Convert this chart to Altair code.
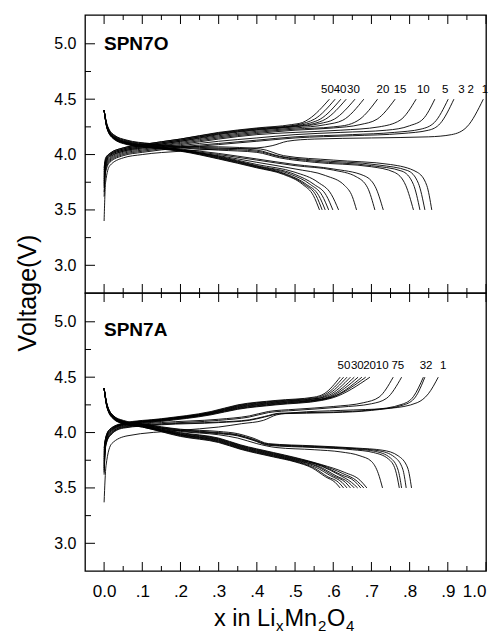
import altair as alt
import pandas as pd

# ---------------- data ----------------
X_MAJOR = [0.0, 0.1, 0.2, 0.3, 0.4, 0.5, 0.6, 0.7, 0.8, 0.9, 1.0]
X_MINOR = [0.05, 0.15, 0.25, 0.35, 0.45, 0.55, 0.65, 0.75, 0.85, 0.95]
Y_MAJOR = [3.0, 3.5, 4.0, 4.5, 5.0]
Y_MINOR = [3.25, 3.75, 4.25, 4.75]

# SPN7O (top) charge curves, cycle -> [(x, V)]
spn7o_charge = {
    1: [(0, 3.40), (0.004, 3.75), (0.015, 3.90), (0.05, 3.97), (0.1, 4.00), (0.2, 4.03), (0.3, 4.05), (0.4, 4.06), (0.44, 4.08), (0.48, 4.12), (0.55, 4.14), (0.7, 4.15), (0.85, 4.16), (0.91, 4.18), (0.95, 4.25), (0.993, 4.50)],
    2: [(0, 3.62), (0.004, 3.84), (0.015, 3.93), (0.05, 3.99), (0.1, 4.02), (0.2, 4.06), (0.3, 4.09), (0.4, 4.12), (0.5, 4.15), (0.65, 4.17), (0.78, 4.19), (0.85, 4.22), (0.88, 4.28), (0.916, 4.50)],
    3: [(0, 3.66), (0.004, 3.86), (0.015, 3.94), (0.05, 4.00), (0.1, 4.03), (0.2, 4.07), (0.3, 4.10), (0.4, 4.13), (0.5, 4.16), (0.65, 4.18), (0.76, 4.20), (0.83, 4.23), (0.865, 4.29), (0.901, 4.50)],
    5: [(0, 3.70), (0.004, 3.88), (0.015, 3.95), (0.05, 4.01), (0.1, 4.04), (0.2, 4.08), (0.3, 4.12), (0.4, 4.15), (0.5, 4.18), (0.62, 4.20), (0.74, 4.22), (0.8, 4.26), (0.835, 4.32), (0.866, 4.50)],
    10: [(0, 3.72), (0.004, 3.89), (0.015, 3.96), (0.05, 4.02), (0.1, 4.05), (0.2, 4.09), (0.3, 4.14), (0.4, 4.18), (0.5, 4.20), (0.62, 4.22), (0.72, 4.25), (0.775, 4.31), (0.817, 4.50)],
    15: [(0, 3.74), (0.004, 3.90), (0.015, 3.97), (0.05, 4.03), (0.1, 4.06), (0.2, 4.10), (0.3, 4.15), (0.4, 4.19), (0.5, 4.22), (0.6, 4.24), (0.67, 4.27), (0.715, 4.32), (0.762, 4.50)],
    20: [(0, 3.76), (0.004, 3.91), (0.015, 3.98), (0.05, 4.03), (0.1, 4.06), (0.2, 4.11), (0.3, 4.16), (0.4, 4.20), (0.5, 4.23), (0.6, 4.25), (0.64, 4.27), (0.67, 4.32), (0.716, 4.50)],
    25: [(0, 3.78), (0.004, 3.92), (0.015, 3.99), (0.05, 4.04), (0.1, 4.07), (0.2, 4.12), (0.3, 4.17), (0.4, 4.21), (0.5, 4.24), (0.58, 4.27), (0.625, 4.31), (0.68, 4.50)],
    30: [(0, 3.80), (0.004, 3.93), (0.015, 3.99), (0.05, 4.04), (0.1, 4.07), (0.2, 4.12), (0.3, 4.18), (0.4, 4.22), (0.5, 4.25), (0.565, 4.28), (0.603, 4.32), (0.657, 4.50)],
    35: [(0, 3.82), (0.004, 3.94), (0.015, 4.00), (0.05, 4.05), (0.1, 4.08), (0.2, 4.13), (0.3, 4.185), (0.4, 4.225), (0.5, 4.255), (0.55, 4.28), (0.58, 4.32), (0.634, 4.50)],
    40: [(0, 3.84), (0.004, 3.95), (0.015, 4.00), (0.05, 4.05), (0.1, 4.08), (0.2, 4.13), (0.3, 4.19), (0.4, 4.23), (0.5, 4.26), (0.54, 4.285), (0.566, 4.32), (0.620, 4.50)],
    45: [(0, 3.86), (0.004, 3.96), (0.015, 4.01), (0.05, 4.06), (0.1, 4.09), (0.2, 4.14), (0.3, 4.195), (0.4, 4.235), (0.5, 4.265), (0.53, 4.29), (0.551, 4.32), (0.605, 4.50)],
    50: [(0, 3.88), (0.004, 3.97), (0.015, 4.01), (0.05, 4.06), (0.1, 4.09), (0.2, 4.14), (0.3, 4.20), (0.4, 4.24), (0.49, 4.27), (0.52, 4.29), (0.536, 4.32), (0.590, 4.50)],
}

# discharge curves: each starts at 4.4 V at x = 0
spn7o_discharge = {
    1: [(0, 4.40), (0.008, 4.27), (0.025, 4.18), (0.06, 4.13), (0.12, 4.10), (0.2, 4.075), (0.3, 4.07), (0.41, 4.05), (0.47, 3.99), (0.6, 3.95), (0.75, 3.91), (0.82, 3.84), (0.845, 3.72), (0.858, 3.50)],
    2: [(0, 4.40), (0.008, 4.26), (0.025, 4.175), (0.06, 4.125), (0.12, 4.095), (0.2, 4.07), (0.3, 4.06), (0.4, 4.04), (0.46, 3.985), (0.55, 3.95), (0.72, 3.905), (0.795, 3.855), (0.823, 3.74), (0.840, 3.50)],
    3: [(0, 4.40), (0.008, 4.26), (0.025, 4.17), (0.06, 4.12), (0.12, 4.09), (0.2, 4.065), (0.3, 4.05), (0.4, 4.03), (0.46, 3.98), (0.55, 3.94), (0.7, 3.90), (0.78, 3.85), (0.81, 3.73), (0.827, 3.50)],
    5: [(0, 4.40), (0.008, 4.255), (0.025, 4.165), (0.06, 4.115), (0.12, 4.085), (0.2, 4.06), (0.3, 4.04), (0.4, 4.02), (0.46, 3.97), (0.55, 3.93), (0.7, 3.89), (0.76, 3.84), (0.79, 3.72), (0.810, 3.50)],
    10: [(0, 4.40), (0.008, 4.25), (0.025, 4.16), (0.06, 4.11), (0.12, 4.08), (0.2, 4.05), (0.3, 4.01), (0.4, 3.96), (0.5, 3.91), (0.6, 3.87), (0.68, 3.81), (0.71, 3.71), (0.731, 3.50)],
    15: [(0, 4.40), (0.008, 4.25), (0.025, 4.16), (0.06, 4.11), (0.12, 4.08), (0.2, 4.045), (0.3, 4.00), (0.4, 3.95), (0.5, 3.90), (0.6, 3.86), (0.66, 3.80), (0.69, 3.70), (0.709, 3.50)],
    20: [(0, 4.40), (0.008, 4.245), (0.025, 4.155), (0.06, 4.105), (0.12, 4.075), (0.2, 4.04), (0.3, 3.99), (0.4, 3.93), (0.5, 3.87), (0.58, 3.81), (0.63, 3.72), (0.65, 3.62), (0.661, 3.50)],
    25: [(0, 4.40), (0.008, 4.245), (0.025, 4.155), (0.06, 4.105), (0.12, 4.075), (0.2, 4.04), (0.3, 3.985), (0.4, 3.91), (0.5, 3.84), (0.56, 3.75), (0.595, 3.64), (0.614, 3.50)],
    30: [(0, 4.40), (0.008, 4.24), (0.025, 4.15), (0.06, 4.10), (0.12, 4.07), (0.2, 4.04), (0.3, 3.98), (0.4, 3.90), (0.5, 3.82), (0.55, 3.73), (0.582, 3.63), (0.599, 3.50)],
    35: [(0, 4.40), (0.008, 4.24), (0.025, 4.15), (0.06, 4.10), (0.12, 4.07), (0.2, 4.04), (0.3, 3.975), (0.4, 3.895), (0.49, 3.82), (0.54, 3.73), (0.571, 3.63), (0.588, 3.50)],
    40: [(0, 4.40), (0.008, 4.235), (0.025, 4.145), (0.06, 4.095), (0.12, 4.065), (0.2, 4.035), (0.3, 3.97), (0.4, 3.89), (0.48, 3.82), (0.53, 3.73), (0.562, 3.63), (0.579, 3.50)],
    45: [(0, 4.40), (0.008, 4.235), (0.025, 4.145), (0.06, 4.095), (0.12, 4.065), (0.2, 4.035), (0.3, 3.965), (0.4, 3.885), (0.475, 3.82), (0.525, 3.73), (0.555, 3.63), (0.571, 3.50)],
    50: [(0, 4.40), (0.008, 4.23), (0.025, 4.14), (0.06, 4.09), (0.12, 4.06), (0.2, 4.03), (0.3, 3.96), (0.4, 3.88), (0.47, 3.82), (0.52, 3.73), (0.548, 3.63), (0.564, 3.50)],
}

# SPN7A (bottom)
spn7a_charge = {
    1: [(0, 3.37), (0.005, 3.70), (0.02, 3.90), (0.06, 3.97), (0.2, 4.02), (0.3, 4.05), (0.36, 4.08), (0.417, 4.11), (0.452, 4.16), (0.5, 4.18), (0.62, 4.20), (0.75, 4.22), (0.82, 4.27), (0.849, 4.35), (0.875, 4.50)],
    2: [(0, 3.62), (0.004, 3.87), (0.015, 3.97), (0.05, 4.04), (0.15, 4.07), (0.3, 4.09), (0.38, 4.11), (0.42, 4.14), (0.46, 4.17), (0.6, 4.18), (0.7, 4.20), (0.785, 4.25), (0.815, 4.32), (0.840, 4.50)],
    3: [(0, 3.64), (0.004, 3.88), (0.015, 3.97), (0.05, 4.045), (0.15, 4.075), (0.3, 4.095), (0.38, 4.115), (0.42, 4.145), (0.46, 4.175), (0.6, 4.185), (0.7, 4.205), (0.78, 4.255), (0.81, 4.325), (0.836, 4.50)],
    5: [(0, 3.66), (0.004, 3.89), (0.015, 3.98), (0.05, 4.05), (0.15, 4.08), (0.3, 4.11), (0.38, 4.14), (0.43, 4.18), (0.5, 4.20), (0.62, 4.23), (0.7, 4.26), (0.74, 4.31), (0.779, 4.50)],
    7: [(0, 3.68), (0.004, 3.90), (0.015, 3.98), (0.05, 4.055), (0.15, 4.09), (0.3, 4.12), (0.38, 4.15), (0.43, 4.19), (0.5, 4.21), (0.6, 4.235), (0.68, 4.27), (0.72, 4.32), (0.757, 4.50)],
    10: [(0, 3.70), (0.004, 3.91), (0.015, 3.99), (0.05, 4.06), (0.15, 4.10), (0.28, 4.16), (0.35, 4.21), (0.45, 4.25), (0.57, 4.29), (0.60, 4.315), (0.696, 4.50)],
    15: [(0, 3.72), (0.004, 3.92), (0.015, 4.00), (0.05, 4.065), (0.15, 4.105), (0.28, 4.165), (0.35, 4.215), (0.45, 4.255), (0.57, 4.295), (0.598, 4.32), (0.685, 4.50)],
    20: [(0, 3.74), (0.004, 3.92), (0.015, 4.00), (0.05, 4.07), (0.15, 4.11), (0.28, 4.17), (0.35, 4.22), (0.45, 4.26), (0.57, 4.30), (0.596, 4.32), (0.675, 4.50)],
    25: [(0, 3.76), (0.004, 3.93), (0.015, 4.01), (0.05, 4.07), (0.15, 4.11), (0.28, 4.17), (0.35, 4.225), (0.45, 4.265), (0.57, 4.30), (0.594, 4.325), (0.665, 4.50)],
    30: [(0, 3.78), (0.004, 3.93), (0.015, 4.01), (0.05, 4.075), (0.15, 4.115), (0.28, 4.175), (0.35, 4.23), (0.45, 4.27), (0.57, 4.305), (0.592, 4.33), (0.655, 4.50)],
    35: [(0, 3.80), (0.004, 3.94), (0.015, 4.02), (0.05, 4.075), (0.15, 4.115), (0.28, 4.18), (0.35, 4.235), (0.45, 4.275), (0.565, 4.31), (0.588, 4.335), (0.645, 4.50)],
    40: [(0, 3.82), (0.004, 3.94), (0.015, 4.02), (0.05, 4.08), (0.15, 4.12), (0.28, 4.18), (0.35, 4.24), (0.45, 4.28), (0.56, 4.31), (0.584, 4.34), (0.636, 4.50)],
    45: [(0, 3.84), (0.004, 3.95), (0.015, 4.03), (0.05, 4.08), (0.15, 4.12), (0.28, 4.185), (0.35, 4.245), (0.45, 4.285), (0.555, 4.315), (0.58, 4.345), (0.627, 4.50)],
    50: [(0, 3.86), (0.004, 3.95), (0.015, 4.03), (0.05, 4.085), (0.15, 4.125), (0.28, 4.19), (0.35, 4.25), (0.45, 4.29), (0.55, 4.32), (0.576, 4.35), (0.618, 4.50)],
}

spn7a_discharge = {
    1: [(0, 4.40), (0.008, 4.25), (0.025, 4.15), (0.05, 4.11), (0.1, 4.08), (0.2, 4.03), (0.3, 4.01), (0.35, 3.99), (0.39, 3.95), (0.43, 3.90), (0.55, 3.88), (0.66, 3.86), (0.73, 3.84), (0.77, 3.79), (0.795, 3.68), (0.805, 3.50)],
    2: [(0, 4.40), (0.008, 4.25), (0.025, 4.15), (0.05, 4.105), (0.1, 4.075), (0.2, 4.025), (0.3, 4.00), (0.35, 3.98), (0.39, 3.94), (0.43, 3.895), (0.55, 3.875), (0.66, 3.855), (0.72, 3.835), (0.76, 3.78), (0.782, 3.67), (0.791, 3.50)],
    3: [(0, 4.40), (0.008, 4.245), (0.025, 4.145), (0.05, 4.10), (0.1, 4.07), (0.2, 4.02), (0.3, 3.995), (0.35, 3.975), (0.39, 3.935), (0.43, 3.89), (0.55, 3.87), (0.66, 3.85), (0.71, 3.83), (0.75, 3.77), (0.77, 3.66), (0.779, 3.50)],
    5: [(0, 4.40), (0.008, 4.245), (0.025, 4.145), (0.05, 4.10), (0.1, 4.07), (0.2, 4.015), (0.3, 3.99), (0.35, 3.97), (0.39, 3.93), (0.43, 3.885), (0.55, 3.865), (0.65, 3.845), (0.705, 3.82), (0.745, 3.76), (0.763, 3.66), (0.773, 3.50)],
    7: [(0, 4.40), (0.008, 4.24), (0.025, 4.14), (0.05, 4.10), (0.1, 4.07), (0.2, 4.01), (0.3, 3.98), (0.35, 3.95), (0.40, 3.90), (0.45, 3.865), (0.55, 3.845), (0.62, 3.825), (0.67, 3.79), (0.70, 3.74), (0.718, 3.63), (0.729, 3.50)],
    10: [(0, 4.40), (0.008, 4.24), (0.025, 4.14), (0.05, 4.095), (0.1, 4.065), (0.2, 4.00), (0.3, 3.95), (0.356, 3.89), (0.443, 3.82), (0.5, 3.775), (0.57, 3.71), (0.63, 3.64), (0.67, 3.57), (0.688, 3.50)],
    15: [(0, 4.40), (0.008, 4.24), (0.025, 4.14), (0.05, 4.095), (0.1, 4.065), (0.2, 3.995), (0.3, 3.945), (0.356, 3.885), (0.443, 3.815), (0.5, 3.77), (0.57, 3.705), (0.625, 3.63), (0.663, 3.56), (0.680, 3.50)],
    20: [(0, 4.40), (0.008, 4.235), (0.025, 4.135), (0.05, 4.09), (0.1, 4.06), (0.2, 3.99), (0.3, 3.94), (0.356, 3.88), (0.443, 3.81), (0.5, 3.765), (0.57, 3.70), (0.62, 3.62), (0.656, 3.56), (0.672, 3.50)],
    25: [(0, 4.40), (0.008, 4.235), (0.025, 4.135), (0.05, 4.09), (0.1, 4.06), (0.2, 3.985), (0.3, 3.935), (0.356, 3.875), (0.443, 3.805), (0.5, 3.76), (0.57, 3.695), (0.614, 3.62), (0.648, 3.55), (0.664, 3.50)],
    30: [(0, 4.40), (0.008, 4.23), (0.025, 4.13), (0.05, 4.09), (0.1, 4.06), (0.2, 3.98), (0.3, 3.93), (0.356, 3.87), (0.443, 3.80), (0.5, 3.755), (0.565, 3.69), (0.607, 3.61), (0.64, 3.55), (0.655, 3.50)],
    35: [(0, 4.40), (0.008, 4.23), (0.025, 4.13), (0.05, 4.085), (0.1, 4.055), (0.2, 3.98), (0.3, 3.925), (0.356, 3.865), (0.443, 3.795), (0.5, 3.75), (0.56, 3.69), (0.60, 3.61), (0.632, 3.55), (0.645, 3.50)],
    40: [(0, 4.40), (0.008, 4.225), (0.025, 4.125), (0.05, 4.085), (0.1, 4.055), (0.2, 3.975), (0.3, 3.92), (0.356, 3.86), (0.443, 3.79), (0.5, 3.745), (0.555, 3.685), (0.593, 3.61), (0.623, 3.55), (0.636, 3.50)],
    45: [(0, 4.40), (0.008, 4.225), (0.025, 4.125), (0.05, 4.08), (0.1, 4.05), (0.2, 3.97), (0.3, 3.915), (0.356, 3.855), (0.443, 3.785), (0.5, 3.74), (0.55, 3.68), (0.586, 3.60), (0.614, 3.55), (0.627, 3.50)],
    50: [(0, 4.40), (0.008, 4.22), (0.025, 4.12), (0.05, 4.08), (0.1, 4.05), (0.2, 3.965), (0.3, 3.91), (0.356, 3.85), (0.443, 3.78), (0.5, 3.735), (0.545, 3.68), (0.58, 3.60), (0.605, 3.55), (0.618, 3.50)],
}

# cycle-number labels: text, x position, voltage position
spn7o_label_text = ["50", "40", "30", "20", "15", "10", "5", "3", "2", "1"]
spn7o_label_x = [0.585, 0.618, 0.653, 0.730, 0.775, 0.836, 0.893, 0.936, 0.960, 0.997]
spn7o_label_v = 4.58
spn7a_label_text = ["50", "30", "20", "10", "7", "5", "3", "2", "1"]
spn7a_label_x = [0.628, 0.663, 0.695, 0.728, 0.761, 0.777, 0.835, 0.851, 0.888]
spn7a_label_v = 4.60

# ---------------- build tables ----------------
def curves_table(charge, discharge):
    rows = []
    for kind, group in (("c", charge), ("d", discharge)):
        for cyc, pts in group.items():
            for i, (x, v) in enumerate(pts):
                rows.append({"curve": f"{kind}{cyc}", "i": i, "x": x, "v": v})
    return pd.DataFrame(rows)

FONT = "Liberation Sans"
W, H = 401, 278
xscale = alt.Scale(domain=[-0.05, 1.0], nice=False, zero=False)
yscale = alt.Scale(domain=[2.75, 5.26], nice=False, zero=False)

yaxis = alt.Axis(values=Y_MAJOR, format=".1f", ticks=False, domain=False, grid=False,
                 labelFontSize=16, labelPadding=9, labelFont=FONT, labelColor="black", title=None)
xaxis_bottom = alt.Axis(values=X_MAJOR, ticks=False, domain=False, grid=False,
                        labelExpr="datum.value == 0 ? '0.0' : (datum.value > 0.99 ? '1.0' : '.' + format(datum.value * 10, '.0f'))",
                        labelFontSize=17, labelPadding=12, labelFont=FONT, labelColor="black", title=None)


def one_text(text, px, py, size, weight="normal", align="left", baseline="alphabetic", angle=0):
    return alt.Chart(pd.DataFrame({"a": [0]})).mark_text(
        text=text, font=FONT, fontSize=size, fontWeight=weight, align=align,
        baseline=baseline, angle=angle, color="black"
    ).encode(x=alt.value(px), y=alt.value(py))


def panel(charge, discharge, lab_text, lab_x, lab_v, name, name_y, bottom):
    df = curves_table(charge, discharge)
    xaxis = xaxis_bottom if bottom else None
    lines = alt.Chart(df).mark_line(color="black", strokeWidth=0.9, interpolate="monotone", clip=True).encode(
        x=alt.X("x:Q", scale=xscale, axis=xaxis),
        y=alt.Y("v:Q", scale=yscale, axis=yaxis),
        detail="curve:N",
        order="i:Q",
    )
    labs = alt.Chart(pd.DataFrame({"t": lab_text, "x": lab_x, "v": [lab_v] * len(lab_text)})).mark_text(
        font=FONT, fontSize=11.5, color="black", baseline="middle"
    ).encode(x=alt.X("x:Q", scale=xscale), y=alt.Y("v:Q", scale=yscale), text="t:N")

    xmaj = pd.DataFrame({"x": X_MAJOR})
    xmin = pd.DataFrame({"x": X_MINOR})
    ymaj = pd.DataFrame({"v": Y_MAJOR})
    ymin = pd.DataFrame({"v": Y_MINOR})
    rule = dict(color="black", strokeWidth=1)
    ticks = [
        alt.Chart(xmaj).mark_rule(**rule).encode(x=alt.X("x:Q", scale=xscale), y=alt.value(0), y2=alt.value(9)),
        alt.Chart(xmin).mark_rule(**rule).encode(x=alt.X("x:Q", scale=xscale), y=alt.value(0), y2=alt.value(5)),
        alt.Chart(xmaj).mark_rule(**rule).encode(x=alt.X("x:Q", scale=xscale), y=alt.value(H), y2=alt.value(H - 9)),
        alt.Chart(xmin).mark_rule(**rule).encode(x=alt.X("x:Q", scale=xscale), y=alt.value(H), y2=alt.value(H - 5)),
        alt.Chart(ymaj).mark_rule(**rule).encode(y=alt.Y("v:Q", scale=yscale), x=alt.value(0), x2=alt.value(10)),
        alt.Chart(ymin).mark_rule(**rule).encode(y=alt.Y("v:Q", scale=yscale), x=alt.value(0), x2=alt.value(6)),
    ]
    extras = [one_text(name, 19, name_y, 19, weight="bold", baseline="middle")]
    if not bottom:
        extras.append(one_text("Voltage(V)", -57, H, 25, align="center", baseline="middle", angle=270))
    else:
        ty = H + 55
        extras += [
            one_text("x in Li", 129, ty, 23.5),
            one_text("x", 191, ty + 5, 15),
            one_text("Mn", 199.5, ty, 23.5),
            one_text("2", 233, ty + 5, 15),
            one_text("O", 242, ty, 23.5),
            one_text("4", 261, ty + 5, 15),
        ]
    return alt.layer(lines, labs, *ticks, *extras).properties(width=W, height=H)


top = panel(spn7o_charge, spn7o_discharge, spn7o_label_text, spn7o_label_x,
            spn7o_label_v, "SPN7O", 29, False)
bottom = panel(spn7a_charge, spn7a_discharge, spn7a_label_text, spn7a_label_x,
               spn7a_label_v, "SPN7A", 37, True)

chart = alt.vconcat(top, bottom, spacing=0, bounds="flush").properties(
    padding={"left": 7, "top": 5, "right": 0, "bottom": 5}
).configure(background="white").configure_view(stroke="black", strokeWidth=1.3)

chart.save("out.html", embed_options={"renderer": "svg", "actions": False})
